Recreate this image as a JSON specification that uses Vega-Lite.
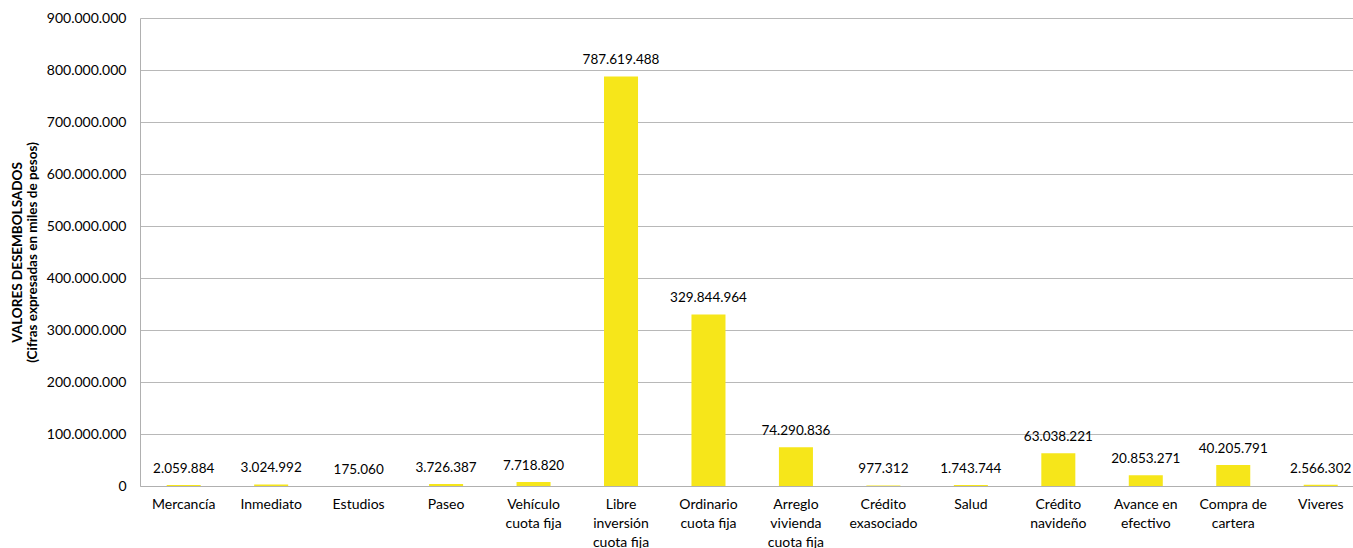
{
  "$schema": "https://vega.github.io/schema/vega-lite/v6.json",
  "width": 1213,
  "height": 468,
  "autosize": {"type": "none"},
  "padding": {"left": 140, "top": 18, "right": 0, "bottom": 62},
  "background": "white",
  "config": {
    "locale": {"number": {"decimal": ",", "thousands": ".", "grouping": [3], "currency": ["$", ""]}},
    "view": {"stroke": null},
    "font": "Lato"
  },
  "data": {"values": [
    {"cat": "Mercancía", "v": 2059884},
    {"cat": "Inmediato", "v": 3024992},
    {"cat": "Estudios", "v": 175060},
    {"cat": "Paseo", "v": 3726387},
    {"cat": "Vehículo|cuota fija", "v": 7718820},
    {"cat": "Libre|inversión|cuota fija", "v": 787619488},
    {"cat": "Ordinario|cuota fija", "v": 329844964},
    {"cat": "Arreglo|vivienda|cuota fija", "v": 74290836},
    {"cat": "Crédito|exasociado", "v": 977312},
    {"cat": "Salud", "v": 1743744},
    {"cat": "Crédito|navideño", "v": 63038221},
    {"cat": "Avance en|efectivo", "v": 20853271},
    {"cat": "Compra de|cartera", "v": 40205791},
    {"cat": "Viveres", "v": 2566302}
  ]},
  "encoding": {
    "x": {"field": "cat", "type": "nominal", "sort": null,
      "scale": {"paddingInner": 0.611, "paddingOuter": 0.24, "align": 0.636},
      "axis": {"title": null, "labelAngle": 0, "labelExpr": "split(datum.label, '|')",
        "labelFontSize": 14, "labelColor": "#000", "labelPadding": 11, "ticks": false,
        "domainColor": "#b0b0b0", "labelLineHeight": 19}},
    "y": {"field": "v", "type": "quantitative",
      "scale": {"domain": [0, 900000000], "nice": false},
      "axis": {"tickCount": 9, "labelExpr": "format(datum.value, ',')",
        "labelFontSize": 14, "labelColor": "#000", "labelPadding": 14, "ticks": false,
        "domainColor": "#b0b0b0", "gridColor": "#b8b8b8",
        "title": ["VALORES DESEMBOLSADOS", "(Cifras expresadas en miles de pesos)"],
        "titleFontSize": 13.5, "titleFontWeight": "bold", "titleColor": "#000", "titlePadding": 7, "titleLineHeight": 15}}
  },
  "layer": [
    {"mark": {"type": "bar", "color": "#f6e61a"}},
    {"mark": {"type": "text", "baseline": "bottom", "dy": -9, "fontSize": 13.5, "color": "#000"},
     "encoding": {"text": {"field": "v", "type": "quantitative", "format": ","}}}
  ]
}
